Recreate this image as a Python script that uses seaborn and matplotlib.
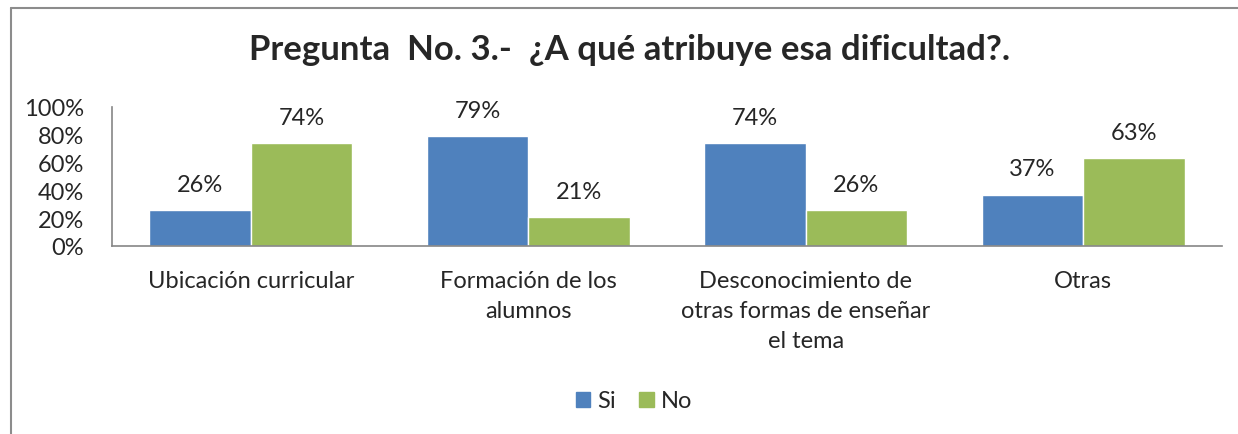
import pandas as pd
import numpy as np
import matplotlib
matplotlib.use("Agg")
import matplotlib.pyplot as plt
import seaborn as sns
from matplotlib.lines import Line2D

# data
categories = ["Ubicación curricular",
              "Formación de los\nalumnos",
              "Desconocimiento de\notras formas de enseñar\nel tema",
              "Otras"]
si_values = [26, 79, 74, 37]
no_values = [74, 21, 26, 63]
series_names = ["Si", "No"]
y_ticks = [0, 20, 40, 60, 80, 100]

df = pd.DataFrame({
    "categoria": categories * 2,
    "respuesta": [series_names[0]] * 4 + [series_names[1]] * 4,
    "valor": si_values + no_values,
})

sns.set_style("white")
plt.rcParams["font.family"] = ["Lato", "DejaVu Sans"]

W, H = 1238, 435
fig = plt.figure(figsize=(W / 100, H / 100), dpi=100)
ax = fig.add_axes([112 / W, 188 / H, 1110 / W, 139 / H])

sns.barplot(data=df, x="categoria", y="valor", hue="respuesta",
            palette=["#4F81BD", "#9BBB59"], width=0.73, saturation=1,
            ax=ax, legend=False)

fs = 17
for cont in ax.containers:
    ax.bar_label(cont, labels=[f"{v:.0f}%" for v in cont.datavalues],
                 padding=11, fontsize=fs)

ax.set_ylim(0, 100)
ax.set_xlim(-0.5, 3.5)
ax.set_yticks(y_ticks)
ax.set_yticklabels([f"{t}%" for t in y_ticks], fontsize=fs)
ax.set_xticks(range(len(categories)))
ax.set_xticklabels(categories, fontsize=fs, linespacing=1.55, va="top")
ax.tick_params(axis="y", length=0, pad=20)
ax.tick_params(axis="x", length=0, pad=17)
ax.set_xlabel("")
ax.set_ylabel("")
for s in ["top", "right"]:
    ax.spines[s].set_visible(False)
for s in ["left", "bottom"]:
    ax.spines[s].set_color("#868686")
    ax.spines[s].set_linewidth(1.2)

fig.text(630 / W, 1 - 50 / H,
         "Pregunta  No. 3.-  ¿A qué atribuye esa dificultad?.",
         ha="center", va="center", fontsize=25, fontweight="bold")

handles = [plt.Rectangle((0, 0), 1, 1, color=c) for c in ["#4F81BD", "#9BBB59"]]
fig.legend(handles, series_names, loc="center", bbox_to_anchor=(634 / W, 1 - 402 / H),
           ncol=2, frameon=False, fontsize=fs, handlelength=0.6, handleheight=0.6,
           handletextpad=0.3, columnspacing=1.0)

# chart area border (only top and left visible in the crop)
fig.add_artist(Line2D([11 / W, 11 / W], [0, 1 - 9 / H], color="#8c8c8c", lw=1.5,
                      transform=fig.transFigure))
fig.add_artist(Line2D([11 / W, 1], [1 - 9 / H, 1 - 9 / H], color="#8c8c8c", lw=1.5,
                      transform=fig.transFigure))

fig.savefig("out.png", dpi=100)
